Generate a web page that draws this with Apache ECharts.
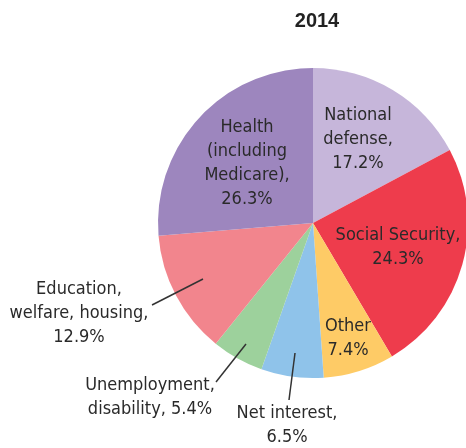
<!DOCTYPE html>
<html>
<head>
<meta charset="utf-8">
<script src="https://cdn.jsdelivr.net/npm/echarts@6/dist/echarts.min.js"></script>
<style>
  html, body { margin: 0; padding: 0; background: #fff; }
  #chart { width: 466px; height: 448px; }
</style>
</head>
<body>
<div id="chart"></div>
<script>
// Federal spending shares, 2014 (clockwise from 12 o'clock)
const categories = [
  'National defense', 'Social Security', 'Other', 'Net interest',
  'Unemployment, disability', 'Education, welfare, housing', 'Health (including Medicare)'
];
const shares = [17.2, 24.3, 7.4, 6.5, 5.4, 12.9, 26.3];
// Label text lines (value appended from shares)
const labelLines = [
  ['National', 'defense,'],
  ['Social Security,'],
  ['Other'],
  ['Net interest,'],
  ['Unemployment,', 'disability, '],
  ['Education,', 'welfare, housing,'],
  ['Health', '(including', 'Medicare),']
];
const colors = ['#c6b6da', '#ee3c4c', '#fecb66', '#8fc3ea', '#9dd19c', '#f2858d', '#9d86be'];

// Label anchor positions (pixels) and leader lines for the outside labels
const labelPos = [
  { x: 358, y: 139 },
  { x: 398, y: 247 },
  { x: 348, y: 338 },
  { x: 287, y: 425, line: [[295, 353], [289, 400]] },
  { x: 150, y: 397, line: [[246, 344], [216, 382]] },
  { x: 79, y: 313, line: [[203, 279], [152, 305]] },
  { x: 247, y: 163 }
];

const FONT = '"Liberation Sans Narrow", "DejaVu Sans Condensed", "Liberation Sans", sans-serif';

const data = categories.map((name, i) => {
  const lines = labelLines[i].slice();
  if (i === 4) {
    lines[lines.length - 1] = lines[lines.length - 1] + shares[i].toFixed(1) + '%';
  } else {
    lines.push(shares[i].toFixed(1) + '%');
  }
  return {
    name,
    value: shares[i],
    itemStyle: { color: colors[i] },
    label: { formatter: lines.join('\n') }
  };
});

// Leader lines drawn above the slices
const leaders = labelPos.filter(p => p.line).map(p => ({
  type: 'line',
  z: 100,
  shape: { x1: p.line[0][0], y1: p.line[0][1], x2: p.line[1][0], y2: p.line[1][1] },
  style: { stroke: '#333', lineWidth: 1.5 }
}));

const chart = echarts.init(document.getElementById('chart'), null, { renderer: 'canvas' });
chart.setOption({
  animation: false,
  title: {
    text: '2014',
    left: 312,
    top: 6,
    textAlign: 'center',
    textStyle: { fontFamily: '"Liberation Sans", Arial, sans-serif', fontWeight: 'bold', fontSize: 20, color: '#222' }
  },
  graphic: leaders,
  series: [{
    type: 'pie',
    center: [313, 223],
    radius: [0, 155],
    startAngle: 90,
    clockwise: true,
    avoidLabelOverlap: false,
    data,
    itemStyle: { borderWidth: 0 },
    label: {
      show: true,
      position: 'outside',
      overflow: 'none',
      fontFamily: FONT,
      fontSize: 18,
      lineHeight: 24,
      color: '#2a2a2a',
      align: 'center'
    },
    labelLine: { show: false },
    labelLayout: function (params) {
      const p = labelPos[params.dataIndex];
      return { x: p.x, y: p.y, align: 'center', verticalAlign: 'middle', hideOverlap: false };
    }
  }]
});
</script>
</body>
</html>
